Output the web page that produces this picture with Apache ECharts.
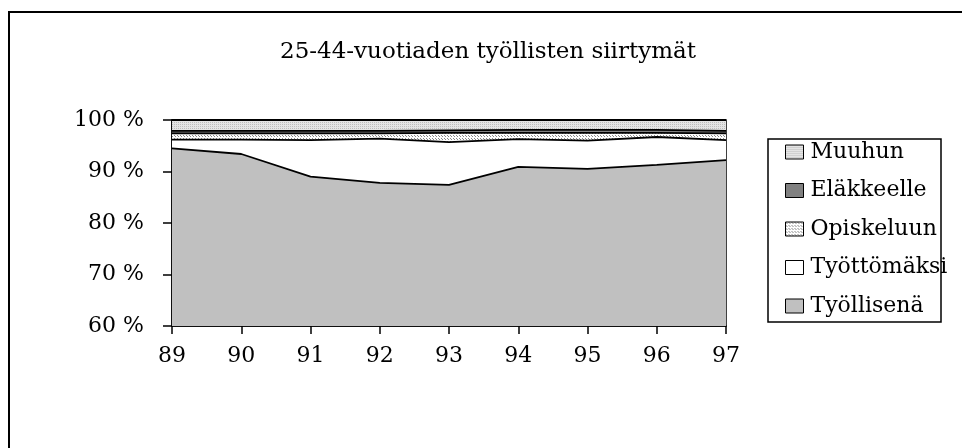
<!DOCTYPE html>
<html>
<head>
<meta charset="utf-8">
<script src="https://cdn.jsdelivr.net/npm/echarts@6/dist/echarts.min.js"></script>
<style>
  html, body { margin: 0; padding: 0; background: #fff; }
  #chart { width: 962px; height: 448px; }
</style>
</head>
<body>
<div id="chart"></div>
<script>
// data (percent of employed 25-44 year olds)
const years = ['89', '90', '91', '92', '93', '94', '95', '96', '97']
const tyollisena = [94.5, 93.4, 89.0, 87.8, 87.4, 90.9, 90.5, 91.3, 92.2]
const tyottomaksi = [1.7, 2.8, 7.1, 8.6, 8.3, 5.4, 5.5, 5.4, 3.9]
const opiskeluun = [1.2, 1.2, 1.3, 1.0, 1.8, 1.2, 1.5, 0.8, 1.3]
const elakkeelle = [0.5, 0.5, 0.5, 0.5, 0.5, 0.6, 0.6, 0.6, 0.5]
const muuhun = [2.1, 2.1, 2.1, 2.1, 2.0, 1.9, 1.9, 1.9, 2.1]
const yTicks = [60, 70, 80, 90, 100]

const serif = '"DejaVu Serif", "Liberation Serif", serif'

// small dotted fills like the old spreadsheet patterns
const makePattern = (bg, dot, step) => {
  const c = document.createElement('canvas')
  c.width = step
  c.height = step
  const ctx = c.getContext('2d')
  ctx.fillStyle = bg
  ctx.fillRect(0, 0, step, step)
  ctx.fillStyle = dot
  ctx.fillRect(0, 0, 1, 1)
  if (step > 2) ctx.fillRect(Math.floor(step / 2), Math.floor(step / 2), 1, 1)
  return { image: c, repeat: 'repeat' }
}
const muuhunFill = makePattern('#e4e4e4', '#bdbdbd', 2)
const opiskeluFill = makePattern('#ffffff', '#8a8a8a', 3)

const seriesDefs = [
  { name: 'Työllisenä', data: tyollisena, fill: '#c0c0c0' },
  { name: 'Työttömäksi', data: tyottomaksi, fill: '#ffffff' },
  { name: 'Opiskeluun', data: opiskeluun, fill: opiskeluFill },
  { name: 'Eläkkeelle', data: elakkeelle, fill: '#808080' },
  { name: 'Muuhun', data: muuhun, fill: muuhunFill }
]

const chart = echarts.init(document.getElementById('chart'), null, { renderer: 'canvas' })

const series = seriesDefs.map((s) => ({
  name: s.name,
  type: 'line',
  stack: 'total',
  data: s.data,
  symbol: 'none',
  smooth: false,
  lineStyle: { color: '#000', width: 1.8 },
  itemStyle: { color: '#000' },
  areaStyle: { color: s.fill, opacity: 1 },
  emphasis: { disabled: true }
}))

// legend shows the area fills, drawn in reverse order like the original
const legendNames = ['Muuhun', 'Eläkkeelle', 'Opiskeluun', 'Työttömäksi', 'Työllisenä']
const fillByName = {}
seriesDefs.forEach((s) => { fillByName[s.name] = s.fill })

chart.setOption({
  animation: false,
  backgroundColor: '#fff',
  title: {
    text: '25-44-vuotiaden työllisten siirtymät',
    left: 483,
    top: 36,
    textAlign: 'center',
    textStyle: { fontFamily: serif, fontSize: 23, fontWeight: 'normal', color: '#000' }
  },
  graphic: [
    {
      type: 'rect',
      shape: { x: 9, y: 12, width: 1000, height: 500 },
      style: { fill: null, stroke: '#000', lineWidth: 2 },
      silent: true
    },
    {
      type: 'rect',
      shape: { x: 768, y: 139, width: 173, height: 183 },
      style: { fill: '#fff', stroke: '#000', lineWidth: 1.5 },
      silent: true,
      z: 0
    }
  ],
  legend: {
    orient: 'vertical',
    left: 780,
    top: 136,
    itemGap: 16.5,
    itemWidth: 18,
    itemHeight: 14,
    icon: 'rect',
    textStyle: { fontFamily: serif, fontSize: 22, color: '#000', padding: [0, 0, 0, 2] },
    data: legendNames.map((n) => ({
      name: n,
      itemStyle: { color: fillByName[n], borderColor: '#000', borderWidth: 1 }
    })),
    selectedMode: false,
    z: 5
  },
  grid: {
    left: 172,
    right: 236,
    top: 120,
    bottom: 122,
    show: true,
    borderColor: '#000',
    borderWidth: 1.5,
    backgroundColor: 'transparent',
    containLabel: false
  },
  xAxis: {
    type: 'category',
    data: years,
    boundaryGap: false,
    axisLine: { lineStyle: { color: '#000', width: 1.5 } },
    axisTick: { show: true, inside: false, length: 8, alignWithLabel: true, lineStyle: { color: '#000', width: 1.5 } },
    axisLabel: { fontFamily: serif, fontSize: 22, color: '#000', margin: 19 },
    splitLine: { show: false }
  },
  yAxis: {
    type: 'value',
    min: yTicks[0],
    max: yTicks[yTicks.length - 1],
    interval: 10,
    axisLine: { show: true, lineStyle: { color: '#000', width: 1.5 } },
    axisTick: { show: true, length: 9, lineStyle: { color: '#000', width: 1.5 } },
    axisLabel: { fontFamily: serif, fontSize: 22, color: '#000', margin: 28, formatter: (v) => v + ' %' },
    splitLine: { show: false }
  },
  series
})
</script>
</body>
</html>
